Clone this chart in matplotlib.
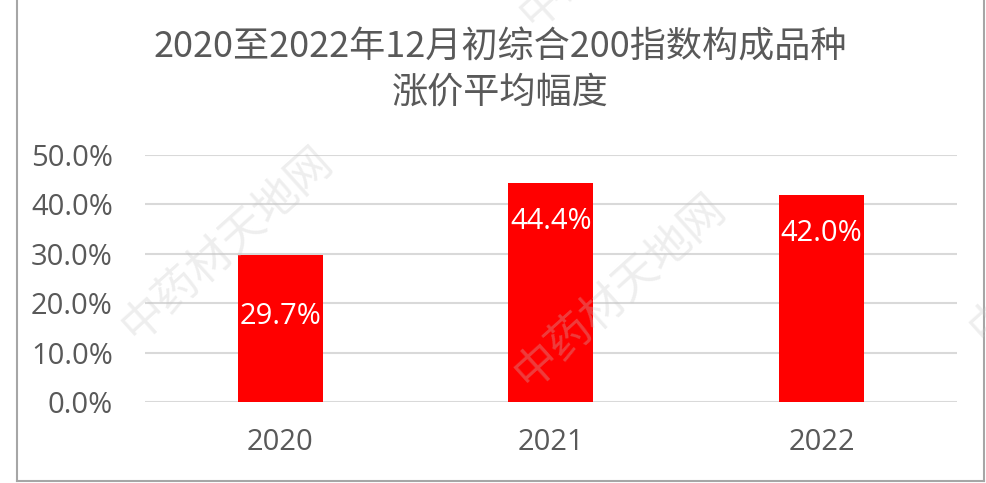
import matplotlib
matplotlib.use("Agg")
import matplotlib.pyplot as plt
from matplotlib.lines import Line2D

plt.rcParams['font.family'] = ['Open Sans', 'Noto Sans CJK SC', 'DejaVu Sans']

# data
years = ["2020", "2021", "2022"]
rise = [0.297, 0.444, 0.420]
yticks = [0.0, 0.1, 0.2, 0.3, 0.4, 0.5]

title = "2020至2022年12月初综合200指数构成品种\n涨价平均幅度"
watermark = "中药材天地网"

grey = "#595959"

fig = plt.figure(figsize=(9.86, 4.83), dpi=100)
ax = fig.add_axes([0.147, 0.1677, 0.8236, 0.5113])

x = range(len(years))
bars = ax.bar(x, rise, width=0.314, color="#ff0000", zorder=2)

# value labels, Excel put the short one in the middle and the others near the top
for b, v in zip(bars, rise):
    lbl = "%.1f%%" % (v * 100)
    if v == min(rise):
        ax.annotate(lbl, (b.get_x() + b.get_width() / 2, v / 2), xytext=(0, 9),
                    textcoords="offset points", ha="center", va="center",
                    color="white", fontsize=21, zorder=3)
    else:
        ax.annotate(lbl, (b.get_x() + b.get_width() / 2, v), xytext=(0, -28),
                    textcoords="offset points", ha="center", va="center",
                    color="white", fontsize=21, zorder=3)

ax.set_ylim(0, 0.5)
ax.set_xlim(-0.5, 2.5)
ax.set_yticks(yticks)
ax.set_yticklabels(["%.1f%%" % (t * 100) for t in yticks])
ax.set_xticks(list(x))
ax.set_xticklabels(years)
ax.tick_params(axis="both", length=0, labelsize=21, colors=grey)
ax.tick_params(axis="y", pad=23)
ax.tick_params(axis="x", pad=19)
ax.grid(axis="y", color="#d9d9d9", linewidth=1.5, zorder=0)
ax.set_axisbelow(True)
for s in ax.spines.values():
    s.set_visible(False)

fig.text(500 / 986, 1 - 70 / 483, title, ha="center", va="center",
         fontsize=26, color=grey, linespacing=1.3,
         family=['Noto Sans CJK SC', 'DejaVu Sans'])

# faint watermarks (two whole, two only peeking in at the edges)
for wx, wy in [(227, 243), (620, 290), (625, -70), (1075, 245)]:
    fig.text(wx / 986, 1 - wy / 483, watermark, ha="center", va="center",
             rotation=42, fontsize=32, color="#c8c8c8", alpha=0.3,
             family=['Noto Sans CJK SC'], zorder=10)

# outer border of the chart box
bc = "#a6a6a6"
fig.add_artist(Line2D([17 / 986, 17 / 986], [1 - 481 / 483, 1.0], color=bc, lw=1.5))
fig.add_artist(Line2D([984 / 986, 984 / 986], [1 - 481 / 483, 1.0], color=bc, lw=1.5))
fig.add_artist(Line2D([17 / 986, 984 / 986], [1 - 481 / 483, 1 - 481 / 483], color=bc, lw=1.5))

fig.savefig("out.png", dpi=100)
